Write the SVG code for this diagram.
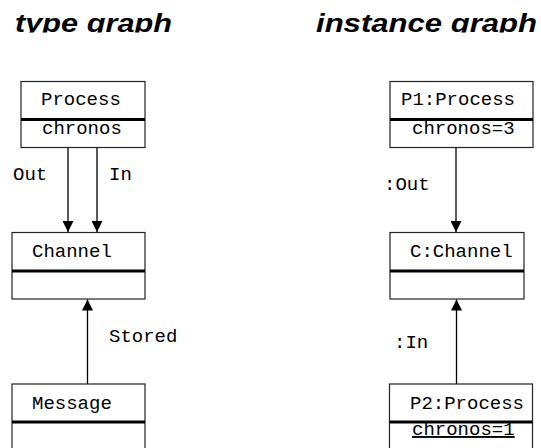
<svg xmlns="http://www.w3.org/2000/svg" width="541" height="448" viewBox="0 0 541 448">
<style>
.box{fill:#fff;stroke:#222;stroke-width:1.2}
.sep{stroke:#000;stroke-width:3}
.mono{font-family:"Liberation Mono","Courier New",monospace;font-size:19px;fill:#000}
.title{font-family:"Liberation Sans",Arial,sans-serif;font-weight:bold;font-style:italic;font-size:26.5px;fill:#000}
.edge{stroke:#000;stroke-width:1.3;fill:none}
</style>
<defs>
<marker id="arr" viewBox="0 0 11 11" refX="11" refY="5.5" markerWidth="11" markerHeight="11" markerUnits="userSpaceOnUse" orient="auto">
<path d="M0,0 L11,5.5 L0,11 Z" fill="#000"/>
</marker>
<clipPath id="tclip"><rect x="0" y="0" width="541" height="32.5"/></clipPath>
</defs>
<g id="titles" clip-path="url(#tclip)">
<text class="title" x="15" y="32" textLength="157" lengthAdjust="spacingAndGlyphs">type graph</text>
<text class="title" x="316" y="32" textLength="221" lengthAdjust="spacingAndGlyphs">instance graph</text>
</g>
<g id="connectors">
<line class="edge" x1="68" y1="148" x2="68" y2="232" marker-end="url(#arr)"/>
<line class="edge" x1="97" y1="148" x2="97" y2="232" marker-end="url(#arr)"/>
<line class="edge" x1="87.5" y1="384" x2="87.5" y2="299.5" marker-end="url(#arr)"/>
<line class="edge" x1="456" y1="148" x2="456" y2="232" marker-end="url(#arr)"/>
<line class="edge" x1="456.5" y1="384" x2="456.5" y2="299.5" marker-end="url(#arr)"/>
<text class="mono" x="13" y="180">Out</text>
<text class="mono" x="109" y="180">In</text>
<text class="mono" x="109" y="342">Stored</text>
<text class="mono" x="384" y="190">:Out</text>
<text class="mono" x="394" y="348">:In</text>
</g>
<g id="Process">
<rect class="box" x="21" y="81.5" width="124" height="66"/>
<line class="sep" x1="21" y1="119.5" x2="145" y2="119.5"/>
<text class="mono" x="41" y="105">Process</text>
<text class="mono" x="42" y="134">chronos</text>
</g>
<g id="Channel">
<rect class="box" x="12" y="232.5" width="133" height="66.5"/>
<line class="sep" x1="12" y1="271" x2="145" y2="271"/>
<text class="mono" x="32" y="257">Channel</text>
</g>
<g id="Message">
<rect class="box" x="12" y="384" width="133" height="70"/>
<line class="sep" x1="12" y1="422" x2="145" y2="422"/>
<text class="mono" x="32" y="409">Message</text>
</g>
<g id="P1">
<rect class="box" x="390" y="81.5" width="143" height="66"/>
<line class="sep" x1="390" y1="119.5" x2="533" y2="119.5"/>
<text class="mono" x="401" y="105">P1:Process</text>
<text class="mono" x="412" y="134">chronos=3</text>
</g>
<g id="C">
<rect class="box" x="390" y="232.5" width="134" height="66.5"/>
<line class="sep" x1="390" y1="271" x2="524" y2="271"/>
<text class="mono" x="410" y="257">C:Channel</text>
</g>
<g id="P2">
<rect class="box" x="389.5" y="384" width="143" height="70"/>
<line class="sep" x1="389.5" y1="422" x2="532.5" y2="422"/>
<text class="mono" x="410" y="409">P2:Process</text>
<text class="mono" x="412" y="435" text-decoration="underline">chronos=1</text>
</g>
</svg>
